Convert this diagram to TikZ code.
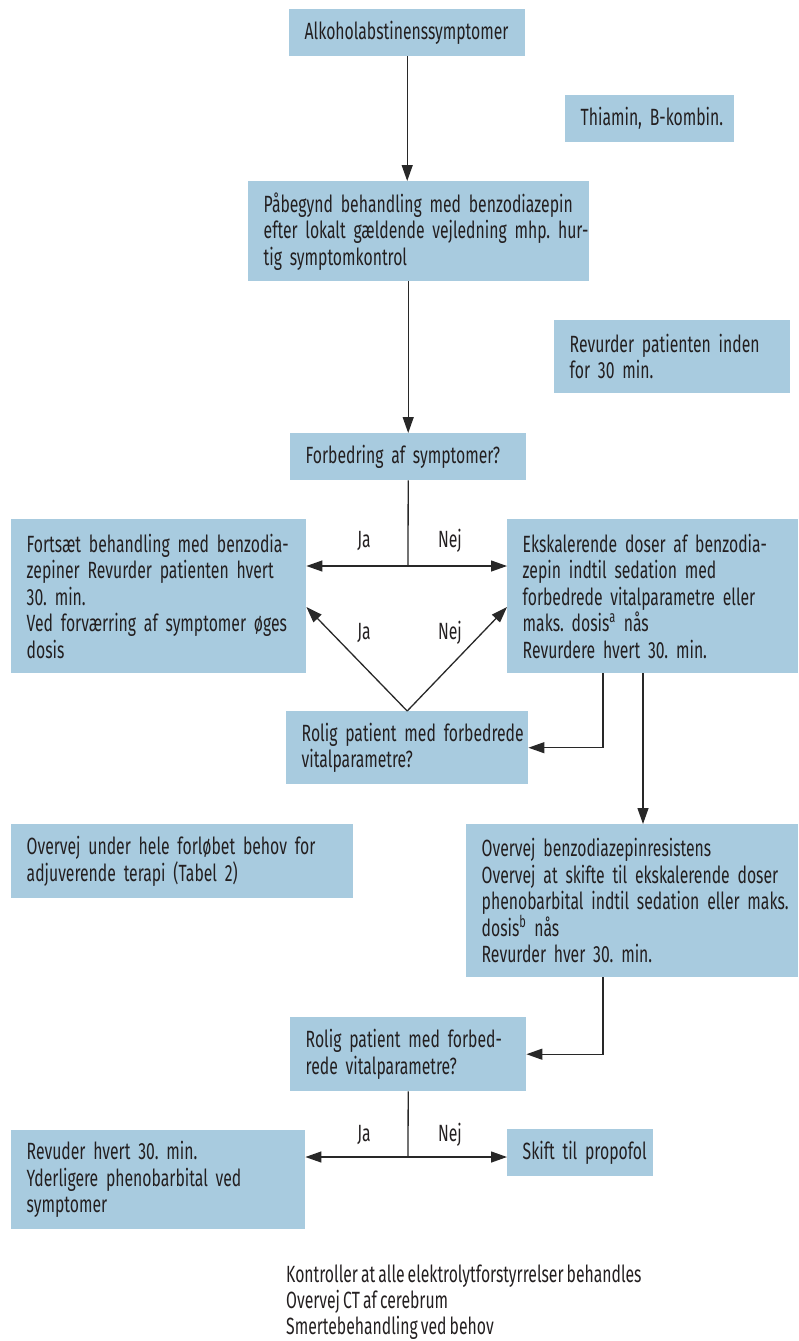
\documentclass[tikz,border=0pt]{standalone}
\usepackage{fontspec}
\setmainfont{Fira Sans}[FakeStretch=0.67,WordSpace=0.75]
\usetikzlibrary{arrows.meta}
\definecolor{boxblue}{RGB}{168,203,223}
\definecolor{ink}{RGB}{35,31,32}
\definecolor{wire}{RGB}{40,40,40}
\newcommand{\kl}[1]{\mbox{#1}}
\frenchspacing
\begin{document}
\begin{tikzpicture}[x=1pt,y=-1pt,
  font=\fontsize{23.5}{26.5}\selectfont,
  box/.style={fill=boxblue, text=ink, anchor=north west, align=left, inner xsep=15.5pt, inner ysep=0pt},
  lbl/.style={text=ink, inner sep=0pt},
  arr/.style={draw=wire, line width=1.3pt, -{Triangle[length=16pt,width=11pt]}},
  ln/.style={draw=wire, line width=1.3pt}]
\useasboundingbox (0,0) rectangle (798,1341);

\node[box, text width=205pt, minimum height=47pt] (b1) at (289,9) {\kl{Alkoholabstinenssymptomer}};
\node[box, text width=138pt, minimum height=47pt] (b2) at (565,95) {\kl{Thiamin, B-kombin.}};
\node[box, text width=310pt, minimum height=100pt] (b3) at (248,181) {\kl{Påbegynd behandling med benzodiazepin}\\\kl{efter lokalt gældende vejledning mhp. hur-}\\\kl{tig symptomkontrol}};
\node[box, text width=205pt, minimum height=73pt] (b4) at (554,320) {\kl{Revurder patienten inden}\\\kl{for 30 min.}};
\node[box, text width=205pt, minimum height=47pt] (b5) at (290,433) {\kl{Forbedring af symptomer?}};
\node[box, text width=264pt, minimum height=154pt] (b6) at (11,519) {\kl{Fortsæt behandling med benzodia-}\\\kl{zepiner Revurder patienten hvert}\\\kl{30. min.}\\\kl{Ved forværring af symptomer øges}\\\kl{dosis}};
\node[box, text width=260pt, minimum height=154pt] (b7) at (507,519) {\kl{Ekskalerende doser af benzodia-}\\\kl{zepin indtil sedation med}\\\kl{forbedrede vitalparametre eller}\\\kl{maks. dosis\textsuperscript{a} nås}\\\kl{Revurdere hvert 30. min.}};
\node[box, text width=211pt, minimum height=73pt] (b8) at (286,711) {\kl{Rolig patient med forbedrede}\\\kl{vitalparametre?}};
\node[box, text width=311pt, minimum height=74pt] (b9) at (11,824) {\kl{Overvej under hele forløbet behov for}\\\kl{adjuverende terapi (Tabel 2)}};
\node[box, text width=301pt, minimum height=153pt] (b10) at (466,824) {\kl{Overvej benzodiazepinresistens}\\\kl{Overvej at skifte til ekskalerende doser}\\\kl{phenobarbital indtil sedation eller maks.}\\\kl{dosis\textsuperscript{b} nås}\\\kl{Revurder hver 30. min.}};
\node[box, text width=205pt, minimum height=74pt] (b11) at (290,1017) {\kl{Rolig patient med forbed-}\\\kl{rede vitalparametre?}};
\node[box, text width=263pt, minimum height=99pt] (b12) at (11,1130) {\kl{Revuder hvert 30. min.}\\\kl{Yderligere phenobarbital ved}\\\kl{symptomer}};
\node[box, text width=115pt, minimum height=47pt] (b13) at (507,1129) {\kl{Skift til propofol}};
\node[lbl, anchor=north west, align=left, font=\fontsize{23.5}{26}\selectfont] (notes) at (286,1265) {Kontroller at alle elektrolytforstyrrelser behandles\\Overvej CT af cerebrum\\Smertebehandling ved behov};

% labels
\node[lbl] (ja1) at (364,541) {Ja};
\node[lbl] (nej1) at (450,541) {Nej};
\node[lbl] (ja2) at (364,633) {Ja};
\node[lbl] (nej2) at (450,633) {Nej};
\node[lbl] (ja3) at (364,1135) {Ja};
\node[lbl] (nej3) at (450,1135) {Nej};

% helper coordinates
\coordinate (j1) at (408,566);
\coordinate (yd) at (0,607);
\coordinate (k1) at (603,0);
\coordinate (k2) at (643,0);
\coordinate (j3) at (408,1157);

% connectors
\draw[arr] (b1.south) -- (b1.south |- b3.north);
\draw[arr] (b5.north |- b3.south) -- (b5.north);
\draw[ln] (b5.south) -- (j1);
\draw[arr] (j1) -- (j1 -| b6.east);
\draw[arr] (j1) -- (j1 -| b7.west);
\draw[arr] (b8.north) -- (b6.east |- yd);
\draw[arr] (b8.north) -- (b7.west |- yd);
\draw[arr] (b7.south -| k1) -- (k1 |- b8.east) -- (b8.east);
\draw[arr] (b7.south -| k2) -- (b10.north -| k2);
\draw[arr] (b10.south -| k1) -- (k1 |- b11.east) -- (b11.east);
\draw[ln] (b11.south) -- (j3);
\draw[arr] (j3) -- (j3 -| b12.east);
\draw[arr] (j3) -- (j3 -| b13.west);
\end{tikzpicture}
\end{document}
